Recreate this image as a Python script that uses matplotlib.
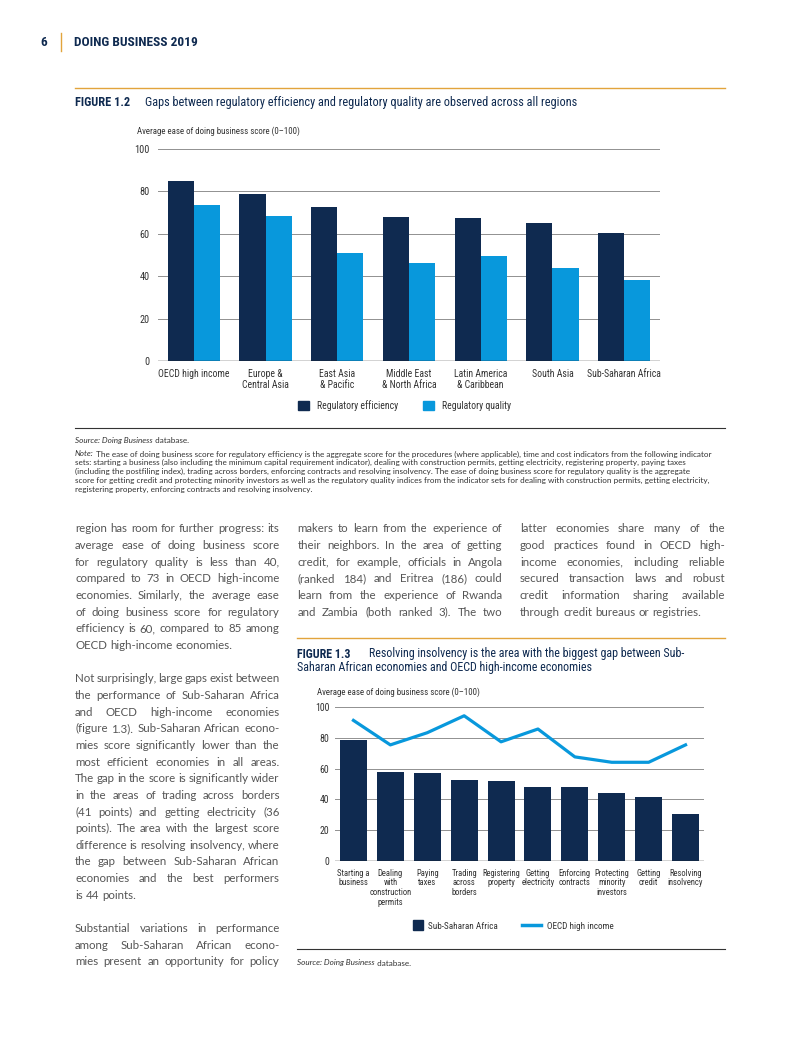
import numpy as np
import matplotlib
matplotlib.use("Agg")
import matplotlib.pyplot as plt
from matplotlib.patches import Patch, Rectangle
from matplotlib.lines import Line2D
from matplotlib.legend_handler import HandlerPatch

# ---------------- data ----------------
regions = ["OECD high income", "Europe &\nCentral Asia", "East Asia\n& Pacific",
           "Middle East\n& North Africa", "Latin America\n& Caribbean", "South Asia",
           "Sub-Saharan Africa"]
reg_efficiency = [85.1, 79.0, 72.5, 67.8, 67.3, 64.9, 60.3]
reg_quality = [73.4, 68.2, 50.9, 46.2, 49.5, 43.8, 38.2]
y_ticks = [0, 20, 40, 60, 80, 100]

indicators = ["Starting a\nbusiness", "Dealing\nwith\nconstruction\npermits", "Paying\ntaxes",
              "Trading\nacross\nborders", "Registering\nproperty", "Getting\nelectricity",
              "Enforcing\ncontracts", "Protecting\nminority\ninvestors", "Getting\ncredit",
              "Resolving\ninsolvency"]
ssa_scores = [78.3, 57.8, 57.2, 52.6, 52.0, 48.3, 48.3, 44.1, 41.7, 30.7]
oecd_scores = [91.3, 75.4, 83.3, 94.3, 77.4, 85.7, 67.6, 64.1, 64.1, 75.4]

fig12_title = "Gaps between regulatory efficiency and regulatory quality are observed across all regions"
fig13_title1 = "Resolving insolvency is the area with the biggest gap between Sub-"
fig13_title2 = "Saharan African economies and OECD high-income economies"
ylabel_txt = "Average ease of doing business score (0\u2013100)"

note_lines = [
    "The ease of doing business score for regulatory efficiency is the aggregate score for the procedures (where applicable), time and cost indicators from the following indicator",
    "sets: starting a business (also including the minimum capital requirement indicator), dealing with construction permits, getting electricity, registering property, paying taxes",
    "(including the postfiling index), trading across borders, enforcing contracts and resolving insolvency. The ease of doing business score for regulatory quality is the aggregate",
    "score for getting credit and protecting minority investors as well as the regulatory quality indices from the indicator sets for dealing with construction permits, getting electricity,",
    "registering property, enforcing contracts and resolving insolvency.",
]

# body text: (line, justified); None = blank line
col1 = [
    ("region has room for further progress: its", True),
    ("average ease of doing business score", True),
    ("for regulatory quality is less than 40,", True),
    ("compared to 73 in OECD high-income", True),
    ("economies. Similarly, the average ease", True),
    ("of doing business score for regulatory", True),
    ("efficiency is 60, compared to 85 among", True),
    ("OECD high-income economies.", False),
    None,
    ("Not surprisingly, large gaps exist between", True),
    ("the performance of Sub-Saharan Africa", True),
    ("and OECD high-income economies", True),
    ("(figure 1.3). Sub-Saharan African econo-", True),
    ("mies score significantly lower than the", True),
    ("most efficient economies in all areas.", True),
    ("The gap in the score is significantly wider", True),
    ("in the areas of trading across borders", True),
    ("(41 points) and getting electricity (36", True),
    ("points). The area with the largest score", True),
    ("difference is resolving insolvency, where", True),
    ("the gap between Sub-Saharan African", True),
    ("economies and the best performers", True),
    ("is 44 points.", False),
    None,
    ("Substantial variations in performance", True),
    ("among Sub-Saharan African econo-", True),
    ("mies present an opportunity for policy", True),
]
col2 = [
    ("makers to learn from the experience of", True),
    ("their neighbors. In the area of getting", True),
    ("credit, for example, officials in Angola", True),
    ("(ranked 184) and Eritrea (186) could", True),
    ("learn from the experience of Rwanda", True),
    ("and Zambia (both ranked 3). The two", True),
]
col3 = [
    ("latter economies share many of the", True),
    ("good practices found in OECD high-", True),
    ("income economies, including reliable", True),
    ("secured transaction laws and robust", True),
    ("credit information sharing available", True),
    ("through credit bureaus or registries.", False),
]

# ---------------- style ----------------
W, H = 800, 1050
NAVY = "#0f2a50"
BLUE = "#0898dc"
GOLD = "#e2a43c"
GRID = "#909090"
TXT = "#333333"
BODY = "#555555"
COND = ["Liberation Sans Narrow", "Roboto Condensed", "Roboto", "DejaVu Sans"]
NOTEF = ["Lato", "Roboto", "DejaVu Sans"]
BODYF = ["Lato", "Open Sans", "DejaVu Sans"]
plt.rcParams["font.family"] = COND

fig = plt.figure(figsize=(W / 100, H / 100), dpi=100)
fig.patch.set_facecolor("white")
R = fig.canvas.get_renderer()


def fxy(x, y):
    return x / W, 1 - y / H


def width_of(s, size, **kw):
    t = fig.text(0, 0, s, fontsize=size, **kw)
    w = t.get_window_extent(R).width
    t.remove()
    return w


def fit_size(s, target, **kw):
    return 10 * target / width_of(s, 10, **kw)


def put(x, y, s, size, **kw):
    return fig.text(*fxy(x, y), s, fontsize=size, **kw)


def hline(x0, x1, y, color, lw):
    fig.add_artist(Line2D([x0 / W, x1 / W], [1 - y / H, 1 - y / H], color=color, lw=lw,
                          transform=fig.transFigure))


# ---------------- header ----------------
hs = fit_size("DOING BUSINESS 2019", 123, weight="bold")
put(40, 42, "6", hs, weight="bold", color=NAVY, va="center")
fig.add_artist(Line2D([61 / W, 61 / W], [1 - 33 / H, 1 - 51 / H], color=GOLD, lw=1.0,
                      transform=fig.transFigure))
put(74, 42, "DOING BUSINESS 2019", hs, weight="bold", color=NAVY, va="center")

# ---------------- figure 1.2 ----------------
hline(75, 725, 88, GOLD, 1.0)
ts = fit_size(fig12_title, 428)
put(75, 102, "FIGURE 1.2", ts, weight="bold", color=NAVY, va="center")
put(145, 102, fig12_title, ts, color=NAVY, va="center")

cs = fit_size("Regulatory efficiency", 76) * 1.06
ys = fit_size(ylabel_txt, 163)
put(137, 131, ylabel_txt, ys, color=TXT, va="center")

ax1 = fig.add_axes([158 / W, 1 - 361 / H, 502 / W, 212 / H])
x1 = np.arange(len(regions))
bw = 0.365
ax1.bar(x1 - bw / 2, reg_efficiency, bw, color=NAVY, zorder=3)
ax1.bar(x1 + bw / 2, reg_quality, bw, color=BLUE, zorder=3)
ax1.set_xlim(-0.5, len(regions) - 0.5)
ax1.set_ylim(0, 100)
ax1.set_yticks(y_ticks)
ax1.yaxis.grid(True, color=GRID, lw=0.7)
ax1.set_axisbelow(True)
for s in ax1.spines.values():
    s.set_visible(False)
ax1.axhline(0, color="#222222", lw=1.0, zorder=4)
ax1.set_xticks(x1)
ax1.set_xticklabels(regions, linespacing=1.12)
ax1.tick_params(axis="x", length=0, labelsize=cs, pad=5.5, colors=TXT)
ax1.tick_params(axis="y", length=0, labelsize=cs * 1.05, pad=6, colors=TXT)
ax1.patch.set_alpha(0)

fig.legend([Patch(color=NAVY), Patch(color=BLUE)],
           ["Regulatory efficiency", "Regulatory quality"],
           loc="center", bbox_to_anchor=fxy(404.5, 405.5), ncol=2, frameon=False,
           fontsize=cs, handlelength=1.1, handleheight=1.0, handletextpad=0.8,
           columnspacing=2.6, borderpad=0, borderaxespad=0, labelcolor=TXT)

hline(75, 725, 428, "#333333", 0.8)

ns = fit_size("Note: " + note_lines[0], 636, family=NOTEF)
src = put(75, 440, "Source: Doing Business", ns, family=NOTEF, style="italic", color=TXT, va="center")
sw = src.get_window_extent(R).width
put(75 + sw, 440, " database.", ns, family=NOTEF, color=TXT, va="center")
for i, ln in enumerate(note_lines):
    y = 454 + 8.8 * i
    if i == 0:
        t = put(75, y, "Note:", ns, family=NOTEF, style="italic", color=TXT, va="center")
        w = t.get_window_extent(R).width
        put(75 + w, y, " " + ln, ns, family=NOTEF, color=TXT, va="center")
    else:
        put(75, y, ln, ns, family=NOTEF, color=TXT, va="center")

# ---------------- body text ----------------
bs = fit_size("region has room for further progress: its", 203, family=BODYF)
bpx = bs * 100 / 72
space_w = width_of("a a", bs, family=BODYF) - width_of("aa", bs, family=BODYF)


def draw_column(lines, x0, colw, y0, dy):
    for i, item in enumerate(lines):
        if item is None:
            continue
        line, just = item
        yb = y0 + dy * i + 0.3 * bpx
        words = line.split(" ")
        objs = [put(0, 0, w, bs, family=BODYF, color=BODY, va="baseline") for w in words]
        ws = [o.get_window_extent(R).width for o in objs]
        gap = (colw - sum(ws)) / (len(words) - 1) if (just and len(words) > 1) else space_w
        xx = x0
        for o, w in zip(objs, ws):
            o.set_position(fxy(xx, yb))
            xx += w + gap


draw_column(col1, 75, 204.5, 529, 16.65)
draw_column(col2, 297.5, 205, 529, 16.65)
draw_column(col3, 520, 205, 529, 16.65)

# ---------------- figure 1.3 ----------------
hline(297, 725, 638, GOLD, 1.0)
ts3 = fit_size(fig13_title1, 313)
put(297, 654, "FIGURE 1.3", ts3, weight="bold", color=NAVY, va="center")
put(369, 654, fig13_title1, ts3, color=NAVY, va="center")
put(297, 668, fig13_title2, ts3, color=NAVY, va="center")

put(317, 692, ylabel_txt, ys, color=TXT, va="center")

cs3 = fit_size("Sub-Saharan Africa", 69)
lab3 = cs3 * 0.95
ax2 = fig.add_axes([335 / W, 1 - 861 / H, 369 / W, 154 / H])
x2 = np.arange(len(indicators))
ax2.bar(x2, ssa_scores, 0.73, color=NAVY, zorder=3)
ax2.plot(x2, oecd_scores, color=BLUE, lw=2.3, zorder=4)
ax2.set_xlim(-0.5, len(indicators) - 0.5)
ax2.set_ylim(0, 100)
ax2.set_yticks(y_ticks)
ax2.yaxis.grid(True, color=GRID, lw=0.7)
ax2.set_axisbelow(True)
for s in ax2.spines.values():
    s.set_visible(False)
ax2.axhline(0, color="#222222", lw=1.0, zorder=5)
ax2.set_xticks(x2)
ax2.set_xticklabels(indicators, linespacing=1.12, va="top")
ax2.tick_params(axis="x", length=0, labelsize=lab3, pad=5.5, colors=TXT)
ax2.tick_params(axis="y", length=0, labelsize=cs3 * 1.08, pad=4, colors=TXT)
ax2.patch.set_alpha(0)


def square_patch(legend, orig_handle, xdescent, ydescent, width, height, fontsize):
    sq = height * 1.0
    return Rectangle((width - sq - xdescent, -ydescent + (height - sq) / 2), sq, sq)


fig.legend([Patch(color=NAVY), Line2D([0], [0], color=BLUE, lw=2.5)],
           ["Sub-Saharan Africa", "OECD high income"],
           handler_map={Patch: HandlerPatch(patch_func=square_patch)},
           loc="center", bbox_to_anchor=fxy(508.5, 925.5), ncol=2, frameon=False,
           fontsize=cs3, handlelength=2.1, handleheight=1.3, handletextpad=0.6,
           columnspacing=2.6, borderpad=0, borderaxespad=0, labelcolor=TXT)

hline(297, 725, 949, "#333333", 0.8)
src2 = put(297, 963, "Source: Doing Business", ns, family=NOTEF, style="italic", color=TXT, va="center")
sw2 = src2.get_window_extent(R).width
put(297 + sw2, 963, " database.", ns, family=NOTEF, color=TXT, va="center")

fig.savefig("out.png", dpi=100, facecolor="white")
